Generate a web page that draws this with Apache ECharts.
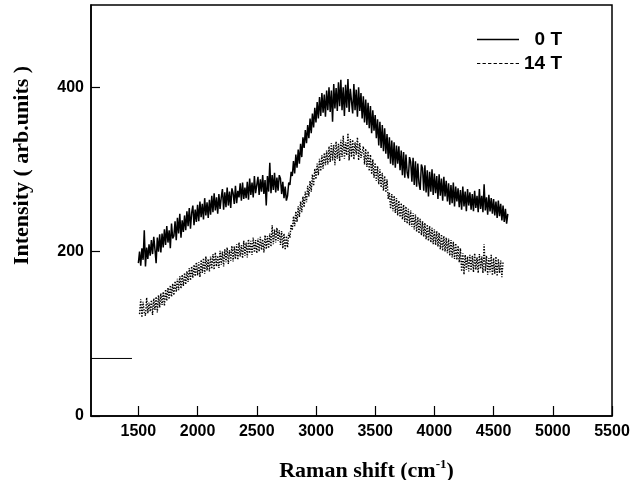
<!DOCTYPE html>
<html>
<head>
<meta charset="utf-8">
<script src="https://cdn.jsdelivr.net/npm/echarts@6/dist/echarts.min.js"></script>
<style>html,body{margin:0;padding:0;background:#fff;}#chart{width:641px;height:480px;}</style>
</head>
<body>
<div id="chart"></div>
<script>
// Raman shift sampling (cm^-1)
var x0TStart = 1500, x14TStart = 1510, xStep = 10;
// 0 T intensity (arb. units), 1500..4620 every 10
var y0T = [
186,200,183,204,190,226,182,205,191,209,
195,214,197,218,203,186,217,200,221,199,
222,205,227,208,231,211,226,204,234,216,
219,237,214,241,222,246,217,238,224,244,
226,249,231,253,228,247,256,232,251,236,
257,237,261,242,258,239,265,244,260,241,
263,245,268,248,271,250,266,246,270,252,
266,276,251,272,254,278,256,273,253,277,
271,258,280,259,274,266,283,262,284,264,
278,265,285,263,289,269,284,266,292,271,
271,291,269,288,273,293,270,287,256,292,
273,308,271,293,275,296,272,290,274,293,
289,270,285,265,279,262,268,284,281,297,
292,310,295,318,302,324,307,331,315,339,
326,348,332,354,338,362,344,368,351,375,
357,382,362,388,365,393,369,391,364,396,
372,400,370,396,358,404,374,399,371,406,
377,409,372,400,365,403,375,410,370,398,
396,368,404,372,397,364,400,371,393,362,
389,357,385,354,381,350,377,344,372,347,
366,338,361,329,358,326,354,322,350,319,
343,313,339,307,335,305,333,302,329,307,
328,299,323,293,321,290,318,296,289,315,
309,285,314,281,310,279,307,283,275,306,
301,274,305,272,299,267,297,273,300,269,
295,271,292,264,294,268,289,262,291,267,
286,261,283,257,281,259,284,255,279,261,
277,254,275,251,279,255,273,249,276,256,
272,251,270,249,274,253,268,248,276,252,
268,248,282,250,266,245,269,249,265,246,
264,244,261,241,262,243,258,238,256,236,
252,234,246
];
// 14 T intensity (arb. units), 1510..4580 every 10
var y14T = [
124,142,120,139,126,122,144,125,138,
127,141,123,143,129,145,126,147,132,149,
135,151,134,154,140,156,142,159,145,161,
147,164,151,167,153,170,155,172,158,174,
160,176,163,180,165,182,168,184,170,187,
171,187,169,190,174,192,173,194,177,191,
176,194,179,197,178,199,182,195,180,201,
184,200,182,203,187,205,185,202,189,207,
188,206,191,209,190,211,194,208,192,213,
195,211,193,215,198,213,196,217,199,214,
198,216,200,218,202,215,199,220,203,219,
204,222,206,232,209,227,211,229,213,226,
208,225,204,222,202,219,205,223,217,233,
226,243,231,249,236,255,242,261,248,267,
254,273,260,280,267,286,273,294,280,301,
288,307,293,313,298,317,301,320,305,323,
306,328,309,332,311,330,305,334,313,331,
310,336,315,341,313,333,317,344,311,337,
315,336,312,333,318,339,311,332,314,321,
328,306,325,303,322,298,318,294,312,290,
308,286,304,282,300,278,296,274,292,272,
288,264,272,252,270,249,268,247,265,244,
262,242,259,239,257,236,255,234,252,232,
250,230,247,227,245,224,242,222,240,220,
237,218,235,215,233,213,231,211,229,209,
227,208,225,206,223,203,221,201,219,200,
217,198,216,195,214,193,212,191,210,190,
207,187,204,176,198,172,196,178,194,176,
196,177,195,175,198,178,193,174,197,179,
194,174,209,176,195,172,192,175,196,171,
192,173,194,170,191,174,189,169,188
];
// short horizontal segment near the left axis
var segX = [1100, 1446];
var segY = [70, 70];
var xTicks = [1500, 2000, 2500, 3000, 3500, 4000, 4500, 5000, 5500];
var yTicks = [0, 200, 400];
var seriesNames = ['0 T', '14 T'];

function pairs(start, step, ys) {
  var out = [];
  for (var i = 0; i < ys.length; i++) out.push([start + i * step, ys[i]]);
  return out;
}

// legend glyphs: a solid bar and a row of short dashes
var solidIcon = 'rect';
var dottedIcon = 'path://M0,0h3v1h-3z M5,0h3v1h-3z M10,0h3v1h-3z M15,0h3v1h-3z M20,0h3v1h-3z M25,0h3v1h-3z M30,0h3v1h-3z M35,0h3v1h-3z';

var chart = echarts.init(document.getElementById('chart'), null, {renderer: 'canvas'});
var sans = 'Liberation Sans';
var serif = 'Liberation Serif';
chart.setOption({
  animation: false,
  backgroundColor: '#fff',
  grid: {left: 91, right: 29, top: 5, bottom: 64, outerBoundsMode: 'none', containLabel: false,
         show: true, borderColor: '#000', borderWidth: 1.5, backgroundColor: 'transparent'},
  legend: {
    data: [{name: seriesNames[0], icon: solidIcon}, {name: seriesNames[1], icon: dottedIcon}],
    orient: 'vertical',
    left: 472,
    top: 25,
    itemWidth: 42,
    itemHeight: 1.3,
    itemGap: 5,
    itemStyle: {color: '#000', borderWidth: 0},
    formatter: function (n) { return n === '0 T' ? '\u2007' + n : n; },
    textStyle: {fontFamily: sans, fontWeight: 'bold', fontSize: 19, lineHeight: 19, color: '#000'}
  },
  xAxis: {
    type: 'value', min: 1100, max: 5500,
    name: 'Raman shift (cm{sup|-1}{p|)}',
    nameLocation: 'middle', nameGap: 42,
    nameTextStyle: {
      fontFamily: serif, fontWeight: 'bold', fontSize: 22, color: '#000', padding: [0, 0, 0, 30],
      rich: {
        sup: {fontFamily: serif, fontWeight: 'bold', fontSize: 13, color: '#000', verticalAlign: 'top', padding: [0, 0, 14, 0]},
        p: {fontFamily: serif, fontWeight: 'bold', fontSize: 22, color: '#000'}
      }
    },
    axisLine: {show: true, lineStyle: {color: '#000', width: 1.5}},
    axisTick: {show: true, inside: true, length: 10, lineStyle: {color: '#000', width: 1.2}, customValues: xTicks},
    axisLabel: {fontFamily: sans, fontWeight: 'bold', fontSize: 16, color: '#000', margin: 8, customValues: xTicks,
      formatter: function (v) { return String(v); }},
    splitLine: {show: false}
  },
  yAxis: {
    type: 'value', min: 0, max: 500,
    name: 'Intensity ( arb.units )',
    nameLocation: 'middle', nameGap: 58,
    nameTextStyle: {fontFamily: serif, fontWeight: 'bold', fontSize: 22, color: '#000', padding: [0, 0, 0, 90]},
    axisLine: {show: true, lineStyle: {color: '#000', width: 1.5}},
    axisTick: {show: true, inside: true, length: 9, lineStyle: {color: '#000', width: 1.2}, customValues: yTicks},
    axisLabel: {fontFamily: sans, fontWeight: 'bold', fontSize: 16, color: '#000', margin: 7, customValues: yTicks,
      formatter: function (v) { return String(v); }},
    splitLine: {show: false}
  },
  series: [
    {name: seriesNames[0], type: 'line', data: pairs(x0TStart, xStep, y0T), symbol: 'none', showSymbol: false,
     lineStyle: {color: '#000', width: 1.5, type: 'solid'}, itemStyle: {color: '#000'}},
    {name: seriesNames[1], type: 'line', data: pairs(x14TStart, xStep, y14T), symbol: 'none', showSymbol: false,
     lineStyle: {color: '#000', width: 1.4, type: 'dotted'}, itemStyle: {color: '#000'}},
    {name: 'segment', type: 'line', data: [[segX[0], segY[0]], [segX[1], segY[1]]], symbol: 'none', silent: true,
     lineStyle: {color: '#000', width: 1}}
  ]
});
</script>
</body>
</html>
